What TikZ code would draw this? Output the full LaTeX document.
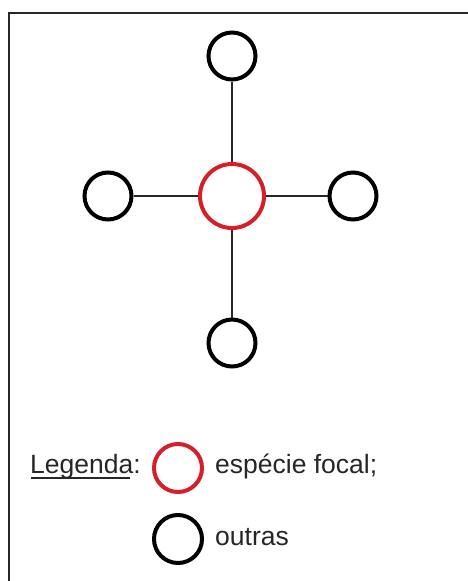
\documentclass[tikz,border=0pt]{standalone}
\usepackage{fontspec}
\setmainfont{Liberation Sans}
\definecolor{focalred}{RGB}{212,32,42}
\definecolor{inkgray}{RGB}{38,38,40}
\tikzset{
  species/.style={circle, draw=black, line width=4pt, minimum size=47pt, inner sep=0pt},
  focal/.style={circle, draw=focalred, line width=4pt, minimum size=64pt, inner sep=0pt},
  legfocal/.style={circle, draw=focalred, line width=4pt, minimum size=48pt, inner sep=0pt},
  link/.style={draw=inkgray, line width=1.5pt},
  label/.style={font=\fontsize{26.5}{30}\selectfont, text=inkgray, inner sep=0pt}
}
\begin{document}
\begin{tikzpicture}[x=1pt,y=-1pt]
  \useasboundingbox (0,0) rectangle (467,581);
  % frame
  \draw[line width=2.5pt, draw=inkgray] (9,600) -- (9,13) -- (480,13);
  % network
  \node[focal] (c) at (232,196) {};
  \node[species] (n) at (232,56) {};
  \node[species] (w) at (108,196) {};
  \node[species] (e) at (353,196) {};
  \node[species] (s) at (232,343) {};
  \draw[link] (n) -- (c);
  \draw[link] (w) -- (c);
  \draw[link] (e) -- (c);
  \draw[link] (s) -- (c);
  % legend
  \node[label, anchor=base west] (leg) at (30,473) {Legenda:};
  \coordinate (ul) at (31,478);
  \draw[draw=inkgray, line width=1.3pt] (ul) -- ++(99,0);
  \node[legfocal] (lf) at (178,468) {};
  \node[label, anchor=base west] (lft) at (215,473) {espécie focal;};
  \node[species, minimum size=48pt] (lo) at (178,539) {};
  \node[label, anchor=base west] (lot) at (215,545) {outras};
\end{tikzpicture}
\end{document}
